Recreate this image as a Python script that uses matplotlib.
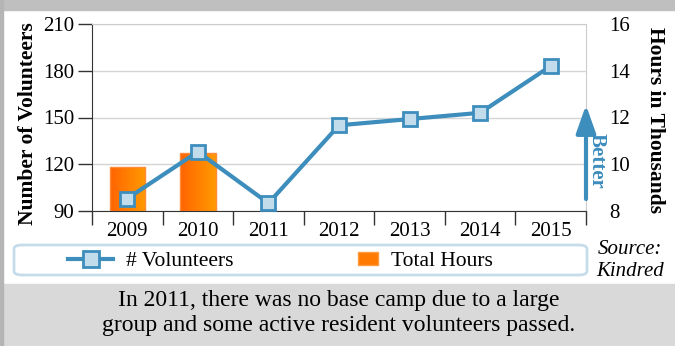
import numpy as np
import matplotlib
matplotlib.use('Agg')
import matplotlib.pyplot as plt
from matplotlib.lines import Line2D
from matplotlib.patches import Rectangle, FancyBboxPatch, FancyArrowPatch, Patch
from matplotlib.legend_handler import HandlerPatch
from matplotlib.colors import LinearSegmentedColormap

plt.rcParams['font.family'] = ['Liberation Serif', 'DejaVu Serif']

# 数据
years = ['2009', '2010', '2011', '2012', '2013', '2014', '2015']
volunteers = [98, 128, 95, 145, 149, 153, 183]
hour_years = ['2009', '2010']
hours = [9.87, 10.47]
left_ticks = [90, 120, 150, 180, 210]
right_ticks = [8, 10, 12, 14, 16]

BLUE = '#3d8dbd'
LIGHT_BLUE = '#c3dcec'
W, H = 675, 346

fig = plt.figure(figsize=(6.75, 3.46), dpi=100)

# 背景框
fig.add_artist(Rectangle((0, 0), 1, 1, transform=fig.transFigure, color='white', zorder=-10))
fig.add_artist(Rectangle((0, 1 - 10 / H), 1, 10 / H, transform=fig.transFigure, color='#bfbfbf', zorder=-9))
fig.add_artist(Rectangle((0, 0), 1, 62 / H, transform=fig.transFigure, color='#d9d9d9', zorder=-9))
fig.add_artist(Rectangle((0, 0), 3 / W, 1, transform=fig.transFigure, color='#b5b5b5', zorder=-8))

ax = fig.add_axes([92 / W, 135 / H, 494 / W, 187 / H])
ax2 = ax.twinx()
ax.set_zorder(2)
ax2.set_zorder(1)
ax.patch.set_visible(False)

x = np.arange(len(years))
ax.set_xlim(-0.5, len(years) - 0.5)
ax.set_ylim(left_ticks[0], left_ticks[-1])

# 柱状图（渐变填充），从右轴底部开始
base = right_ticks[0]
cmap = LinearSegmentedColormap.from_list('orng', ['#ff6400', '#ff9a00'])
bx = [years.index(y) for y in hour_years]
bars = ax2.bar(bx, [h - base for h in hours], width=0.5, bottom=base, color='none',
               edgecolor='#ff8a3a', linewidth=1, zorder=3)
grad = np.linspace(0, 1, 64).reshape(1, -1)
for b in bars:
    x0, w_ = b.get_x(), b.get_width()
    im = ax2.imshow(grad, cmap=cmap, aspect='auto',
                    extent=(x0, x0 + w_, b.get_y(), b.get_y() + b.get_height()),
                    zorder=2, interpolation='bicubic')
    im.set_clip_path(b)
ax2.set_xlim(-0.5, len(years) - 0.5)
ax2.set_ylim(right_ticks[0], right_ticks[-1])

# 折线
ax.plot(x, volunteers, color=BLUE, lw=3, marker='s', ms=10,
        mfc=LIGHT_BLUE, mec=BLUE, mew=2, zorder=5, clip_on=False)

ax.set_yticks(left_ticks)
ax2.set_yticks(right_ticks)

ax2.grid(axis='y', color='#d4d4d4', lw=1, zorder=0)
ax2.set_axisbelow(True)

ax.set_xticks(x)
ax.set_xticklabels(years)
ax.set_xticks(np.arange(-0.5, len(years), 1), minor=True)
ax.tick_params(axis='x', which='major', length=0, pad=8, labelsize=15)
ax.tick_params(axis='x', which='minor', length=10, width=1, color='#333333')
ax.tick_params(axis='y', length=10, width=1, color='#333333', labelsize=15, pad=3)
ax2.tick_params(axis='y', length=0, labelsize=15, pad=17)

for s in ['left', 'bottom']:
    ax.spines[s].set_color('#333333')
for s in ['right', 'top']:
    ax.spines[s].set_color('#cccccc')
for s in ax2.spines.values():
    s.set_visible(False)

fig.text(28 / W, 1 - 124 / H, 'Number of Volunteers', rotation=90, ha='center',
         va='center', fontsize=15.5, fontweight='bold')
fig.text(655 / W, 1 - 120 / H, 'Hours in Thousands', rotation=-90, ha='center',
         va='center', fontsize=15.5, fontweight='bold')

# Better 箭头
fig.add_artist(FancyArrowPatch((586 / W, 1 - 199 / H), (586 / W, 1 - 105 / H),
                               transform=fig.transFigure, color=BLUE, lw=3,
                               arrowstyle='-|>,head_length=1.7,head_width=0.6',
                               mutation_scale=10, shrinkA=0, shrinkB=0, zorder=10))
fig.text(597 / W, 1 - 161 / H, 'Better', rotation=-90, ha='center', va='center',
         color=BLUE, fontsize=15, fontweight='bold')

# 图例
fig.add_artist(FancyBboxPatch((14 / W, 71 / H), 573 / W, 30 / H,
                              boxstyle='round,pad=0,rounding_size=0.012',
                              transform=fig.transFigure, fc='white',
                              ec='#c5dcea', lw=2, zorder=1))


def square_patch(legend, orig_handle, xdescent, ydescent, width, height, fontsize):
    w, h = 14.5, 10
    return Rectangle((-xdescent + width - w, -ydescent + (height - h) / 2), w, h)


h1 = Line2D([], [], color=BLUE, lw=3, marker='s', ms=11, mfc=LIGHT_BLUE, mec=BLUE, mew=2)
h2 = Patch(facecolor='#ff7a00', edgecolor='#ff9a40')
leg = fig.legend([h1, h2], ['# Volunteers', 'Total Hours'], loc='center left',
                 bbox_to_anchor=(68 / W, 85 / H), ncol=2, frameon=False,
                 fontsize=15.5, handlelength=2.1, handletextpad=0.6,
                 columnspacing=4.6, borderpad=0, borderaxespad=0,
                 handler_map={Patch: HandlerPatch(patch_func=square_patch)})
leg.set_zorder(5)

fig.text(630 / W, 1 - 250 / H, 'Source:', ha='center', va='center',
         fontsize=15, style='italic')
fig.text(630 / W, 1 - 272 / H, 'Kindred', ha='center', va='center',
         fontsize=15, style='italic')

fig.text(339 / W, 1 - 306 / H, 'In 2011, there was no base camp due to a large',
         ha='center', va='baseline', fontsize=17)
fig.text(339 / W, 1 - 331 / H, 'group and some active resident volunteers passed.',
         ha='center', va='baseline', fontsize=17)

fig.savefig('out.png', dpi=100)
